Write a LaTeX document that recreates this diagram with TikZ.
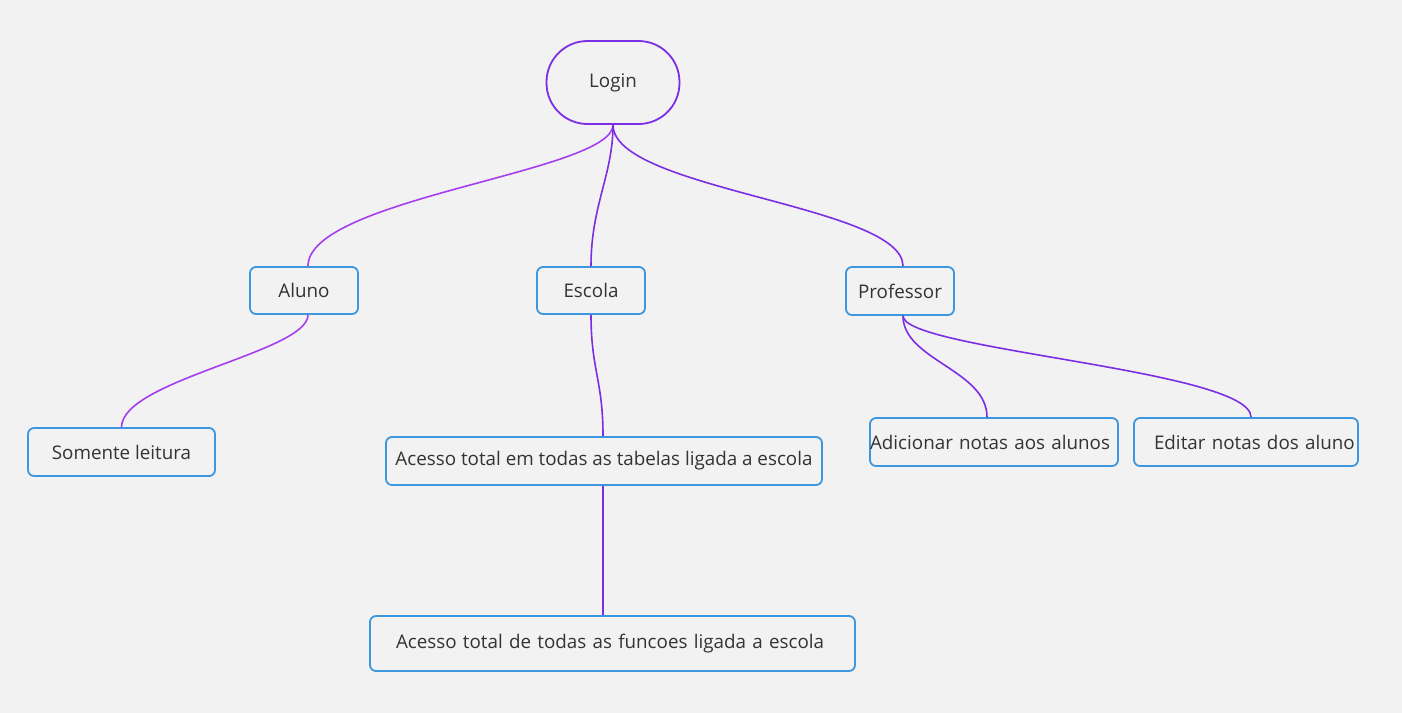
\documentclass[tikz,border=0pt]{standalone}
\usepackage{fontspec}
\setmainfont{Open Sans}
\definecolor{bg}{HTML}{F2F2F2}
\definecolor{boxblue}{HTML}{3D97DF}
\definecolor{purpA}{HTML}{7B2EE3}
\definecolor{purpB}{HTML}{A63DEE}
\definecolor{txt}{HTML}{333333}
\tikzset{
  box/.style={draw=boxblue, line width=1.8pt, rounded corners=6pt, text=txt, font=\fontsize{18.8}{21}\selectfont, inner sep=0pt},
  loginbox/.style={draw=purpA, line width=1.8pt, rounded corners=41pt, text=txt, font=\fontsize{18.8}{21}\selectfont, minimum width=133pt, minimum height=83pt, inner sep=0pt},
  link/.style={draw=purpA, line width=1.6pt},
  linkB/.style={draw=purpB, line width=1.6pt},
}
\begin{document}
\begin{tikzpicture}[x=1pt,y=-1pt]
\fill[bg] (0,0) rectangle (1402,713);
\useasboundingbox (0,0) rectangle (1402,713);

\node[loginbox] (login) at (613,82.5) {Login};
\node[box, minimum width=108pt, minimum height=47pt] (aluno) at (304,290.5) {Aluno};
\node[box, minimum width=108pt, minimum height=47pt] (escola) at (591,290.5) {Escola};
\node[box, minimum width=108pt, minimum height=48pt] (prof) at (900,291) {Professor};
\node[box, minimum width=187pt, minimum height=48pt] (somente) at (121.5,452) {Somente leitura};
\node[box, minimum width=436pt, minimum height=48pt] (acesso1) at (604,461) {Acesso total em todas as tabelas ligada a escola};
\node[box, minimum height=55pt, text width=433pt, inner xsep=26pt, align=left] (acesso2) at (612.5,643.5) {Acesso total de todas as funcoes ligada a escola};
\node[box, minimum height=48pt, text width=248pt, align=left] (adic) at (994,442) {\makebox[0pt][l]{Adicionar notas aos alunos}};
\node[box, minimum height=48pt, text width=204pt, inner xsep=10pt, align=left] (edit) at (1246,442) {\hspace*{10pt}\makebox[0pt][l]{Editar notas dos aluno}};

\draw[linkB] (login.south) .. controls (613,172) and (308,198) .. ([xshift=4pt]aluno.north);
\draw[link] (login.south) .. controls (613,175) and (591,205) .. (escola.north);
\draw[link] (login.south) .. controls (613,190) and (903,205) .. ([xshift=3pt]prof.north);
\draw[linkB] ([xshift=4pt]aluno.south) .. controls (308,352) and (122,380) .. (somente.north);
\draw[link] (escola.south) .. controls (591,370) and (603,380) .. (acesso1.north -| 603,0);
\draw[link] (acesso1.south -| 603,0) -- (acesso2.north -| 603,0);
\draw[link] (prof.south -| 903,0) .. controls (903,360) and (987,370) .. (adic.north -| 987,0);
\draw[link] (prof.south -| 903,0) .. controls (903,350) and (1251,370) .. (edit.north -| 1251,0);
\end{tikzpicture}
\end{document}
